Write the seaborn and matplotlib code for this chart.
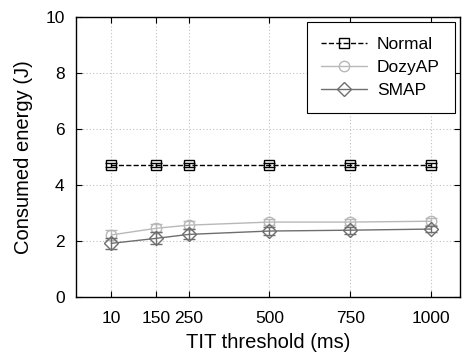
import matplotlib
matplotlib.use("Agg")
import matplotlib.pyplot as plt
import seaborn as sns
import pandas as pd

thresholds = [10, 150, 250, 500, 750, 1000]
normal = [4.71, 4.71, 4.71, 4.71, 4.71, 4.71]
normal_err = [0.08, 0.08, 0.08, 0.08, 0.08, 0.08]
dozyap = [2.22, 2.46, 2.57, 2.68, 2.68, 2.71]
dozyap_err = [0.18, 0.15, 0.14, 0.12, 0.12, 0.12]
smap = [1.92, 2.10, 2.24, 2.36, 2.39, 2.43]
smap_err = [0.2, 0.22, 0.18, 0.15, 0.13, 0.12]
series_names = ["Normal", "DozyAP", "SMAP"]

sns.set_theme(style="white")
plt.rcParams['font.family'] = ['Liberation Sans', 'DejaVu Sans']
plt.rcParams['text.color'] = 'black'
plt.rcParams['axes.labelcolor'] = 'black'
plt.rcParams['xtick.color'] = 'black'
plt.rcParams['ytick.color'] = 'black'

df = pd.DataFrame({
    "x": thresholds * 3,
    "y": normal + dozyap + smap,
    "s": [series_names[0]] * 6 + [series_names[1]] * 6 + [series_names[2]] * 6,
})

fig = plt.figure(figsize=(4.65, 3.55), dpi=100)
ax = fig.add_axes([0.163, 0.163, 0.826, 0.789])

styles = {
    "Normal": dict(color="black", marker="s", ls="--"),
    "DozyAP": dict(color="#b8b8b8", marker="o", ls="-"),
    "SMAP": dict(color="#6e6e6e", marker="D", ls="-"),
}
errs = {"Normal": (normal, normal_err), "DozyAP": (dozyap, dozyap_err), "SMAP": (smap, smap_err)}

for name in series_names:
    st = styles[name]
    sub = df[df.s == name]
    ms = 7.5 if name != "SMAP" else 7
    sns.lineplot(data=sub, x="x", y="y", ax=ax, color=st["color"], marker=st["marker"],
                 linestyle=st["ls"], markersize=ms, markerfacecolor="none",
                 markeredgecolor=st["color"], markeredgewidth=1.0, linewidth=1.0,
                 label=name, dashes=False if st["ls"] == "-" else (6, 4))
    vals, e = errs[name]
    ax.errorbar(thresholds, vals, yerr=e, fmt="none", ecolor=st["color"], elinewidth=1.0,
                capsize=4, capthick=1.0)

ax.set_xlim(-100, 1090)
ax.set_ylim(0, 10)
ax.set_xticks(thresholds)
ax.set_xticklabels([str(t) for t in thresholds])
ax.set_yticks([0, 2, 4, 6, 8, 10])
ax.tick_params(direction="in", length=4, width=0.8, labelsize=12.5, color="black",
               labelcolor="black", top=True, right=True, bottom=True, left=True)
ax.tick_params(axis="x", pad=10)
ax.tick_params(axis="y", pad=8)
ax.grid(True, linestyle=(0, (1, 2)), color="#c0c0c0", linewidth=0.8)
for sp in ax.spines.values():
    sp.set_color("black")
    sp.set_linewidth(1.0)
ax.set_xlabel("TIT threshold (ms)", fontsize=14.5, labelpad=5)
ax.set_ylabel("Consumed energy (J)", fontsize=14.5, labelpad=9)

leg = ax.legend(loc="upper right", fontsize=12.5, frameon=True, fancybox=False,
                edgecolor="black", framealpha=1, handlelength=2.6, borderaxespad=0.3,
                labelspacing=0.45, borderpad=0.85, handletextpad=0.6)
leg.get_frame().set_linewidth(0.8)

fig.savefig("out.png", dpi=100)
